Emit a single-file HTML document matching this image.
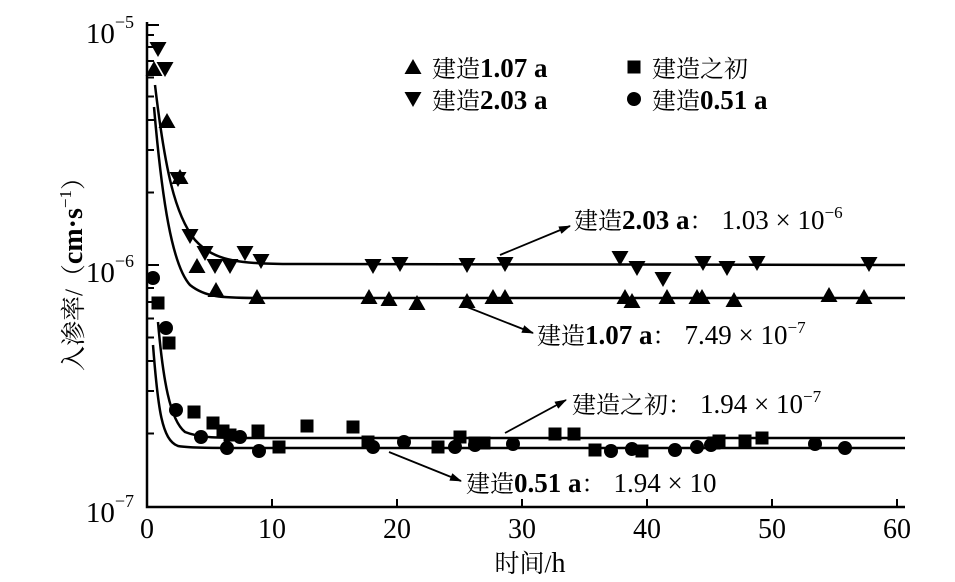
<!DOCTYPE html>
<html><head><meta charset="utf-8"><style>body{margin:0;background:#fff}svg{display:block}text{font-family:"Liberation Serif","Noto Serif CJK SC",serif;fill:#000}.l{font-size:27px}</style></head><body>
<svg width="955" height="582" viewBox="0 0 955 582" xmlns="http://www.w3.org/2000/svg">
<defs>
<path id="tu" d="M0,-9 L8.5,6 L-8.5,6Z"/>
<path id="td" d="M0,9 L8.5,-6 L-8.5,-6Z"/>
<rect id="sq" x="-6.5" y="-6.5" width="13" height="13"/>
<circle id="ci" r="7"/>
<marker id="ar" markerWidth="12" markerHeight="8" refX="11" refY="4" orient="auto" markerUnits="userSpaceOnUse"><path d="M0,0 L12,4 L0,8 Z"/></marker>
</defs>
<g stroke="#000" stroke-width="2.5" fill="none">
<path d="M147,22 V507 H905"/>
</g>
<g stroke="#000" stroke-width="2">
<path d="M147,25h12M147,265h12M147,507h12"/>
<path d="M147,35h7M147,47h7M147,61h7M147,77.5h7M147,96.5h7M147,120h7M147,150h7M147,192.5h7M147,276h7M147,288h7M147,302h7M147,318.5h7M147,337.5h7M147,361h7M147,391h7M147,433.5h7"/>
<path d="M272,507v-8M397,507v-8M522,507v-8M647,507v-8M772,507v-8M897,507v-8"/>
</g>
<g font-size="29" text-anchor="end">
<text x="134" y="43">10<tspan font-size="18" dy="-15">−5</tspan></text>
<text x="134" y="282">10<tspan font-size="18" dy="-15">−6</tspan></text>
<text x="134" y="522">10<tspan font-size="18" dy="-15">−7</tspan></text>
</g>
<g font-size="28" text-anchor="middle">
<text x="147" y="538">0</text><text x="272" y="538">10</text><text x="397" y="538">20</text><text x="522" y="538">30</text><text x="647" y="538">40</text><text x="772" y="538">50</text><text x="897" y="538">60</text>
<text x="530" y="572" font-size="25">时间/<tspan font-size="28">h</tspan></text>
<text transform="translate(82,268) rotate(-90)" font-size="25">入渗率/（<tspan font-size="28" font-weight="bold">cm·s</tspan><tspan font-size="17" dy="-11">−1</tspan><tspan dy="11">）</tspan></text>
</g>
<g stroke="#000" stroke-width="2.5" fill="none">
<path d="M155,85 C165,170 175,215 195,240 C215,262 240,264 300,264 L905,265"/>
<path d="M154,107 C162,200 172,265 190,285 C205,297 220,298 260,298 L905,298"/>
<path d="M158,322 C163,380 170,420 185,432 C200,438 215,438 260,438 L905,438"/>
<path d="M153,345 C158,410 162,440 178,446 C190,448 210,448 260,448 L905,448"/>
</g>
<g fill="#000">
<use href="#td" x="158" y="48"/><use href="#td" x="165" y="68"/><use href="#td" x="178" y="178"/><use href="#td" x="190" y="235"/><use href="#td" x="205" y="252"/><use href="#td" x="215" y="265"/><use href="#td" x="230" y="265"/><use href="#td" x="245" y="252"/><use href="#td" x="261" y="260"/><use href="#td" x="373" y="265"/><use href="#td" x="400" y="263"/><use href="#td" x="467" y="264"/><use href="#td" x="505" y="263"/><use href="#td" x="620" y="257"/><use href="#td" x="637" y="267"/><use href="#td" x="663" y="278"/><use href="#td" x="703" y="262"/><use href="#td" x="727" y="267"/><use href="#td" x="757" y="262"/><use href="#td" x="869" y="263"/>
<use href="#tu" x="154" y="70"/><use href="#tu" x="167" y="122"/><use href="#tu" x="180" y="178"/><use href="#tu" x="197" y="267"/><use href="#tu" x="216" y="291"/><use href="#tu" x="257" y="298"/><use href="#tu" x="369" y="298"/><use href="#tu" x="389" y="300"/><use href="#tu" x="417" y="304"/><use href="#tu" x="467" y="302"/><use href="#tu" x="493" y="298"/><use href="#tu" x="505" y="298"/><use href="#tu" x="625" y="298"/><use href="#tu" x="632" y="302"/><use href="#tu" x="667" y="298"/><use href="#tu" x="697" y="298"/><use href="#tu" x="702" y="298"/><use href="#tu" x="734" y="301"/><use href="#tu" x="829" y="296"/><use href="#tu" x="864" y="298"/>
<use href="#sq" x="158" y="303"/><use href="#sq" x="169" y="343"/><use href="#sq" x="194" y="412"/><use href="#sq" x="213" y="423"/><use href="#sq" x="223" y="431"/><use href="#sq" x="230" y="435"/><use href="#sq" x="258" y="431"/><use href="#sq" x="279" y="447"/><use href="#sq" x="307" y="426"/><use href="#sq" x="353" y="427"/><use href="#sq" x="368" y="442"/><use href="#sq" x="438" y="447"/><use href="#sq" x="460" y="437"/><use href="#sq" x="475" y="443"/><use href="#sq" x="484" y="443"/><use href="#sq" x="555" y="434"/><use href="#sq" x="574" y="434"/><use href="#sq" x="595" y="450"/><use href="#sq" x="642" y="451"/><use href="#sq" x="714" y="443"/><use href="#sq" x="719" y="441"/><use href="#sq" x="745" y="441"/><use href="#sq" x="762" y="438"/>
<use href="#ci" x="153" y="278"/><use href="#ci" x="166" y="328"/><use href="#ci" x="176" y="410"/><use href="#ci" x="201" y="437"/><use href="#ci" x="227" y="448"/><use href="#ci" x="240" y="437"/><use href="#ci" x="259" y="451"/><use href="#ci" x="373" y="447"/><use href="#ci" x="404" y="442"/><use href="#ci" x="455" y="447"/><use href="#ci" x="475" y="445"/><use href="#ci" x="513" y="444"/><use href="#ci" x="611" y="451"/><use href="#ci" x="632" y="449"/><use href="#ci" x="675" y="450"/><use href="#ci" x="697" y="447"/><use href="#ci" x="711" y="445"/><use href="#ci" x="815" y="444"/><use href="#ci" x="845" y="448"/>
<use href="#tu" x="413" y="68"/><use href="#td" x="413" y="98"/><use href="#sq" x="634" y="67"/><use href="#ci" x="634" y="99"/>
</g>
<g font-size="24">
<text x="432" y="77">建造<tspan class="l" font-weight="bold">1.07 a</tspan></text>
<text x="432" y="109">建造<tspan class="l" font-weight="bold">2.03 a</tspan></text>
<text x="652" y="77">建造之初</text>
<text x="652" y="109">建造<tspan class="l" font-weight="bold">0.51 a</tspan></text>
<text x="574" y="229">建造<tspan class="l" font-weight="bold">2.03 a</tspan>：<tspan class="l" dx="8">1.03 × 10</tspan><tspan font-size="17" dy="-11">−6</tspan></text>
<text x="537" y="344">建造<tspan class="l" font-weight="bold">1.07 a</tspan>：<tspan class="l" dx="8">7.49 × 10</tspan><tspan font-size="17" dy="-11">−7</tspan></text>
<text x="572" y="413">建造之初：<tspan class="l" dx="8">1.94 × 10</tspan><tspan font-size="17" dy="-11">−7</tspan></text>
<text x="466" y="492">建造<tspan class="l" font-weight="bold">0.51 a</tspan>：<tspan class="l" dx="8">1.94 × 10</tspan></text>
</g>
<g stroke="#000" stroke-width="1.8" fill="none">
<path d="M500,255 L570,226" marker-end="url(#ar)"/>
<path d="M462,305 L533,333" marker-end="url(#ar)"/>
<path d="M505,433 L566,400" marker-end="url(#ar)"/>
<path d="M389,452 L461,481" marker-end="url(#ar)"/>
</g>
</svg>
</body></html>
